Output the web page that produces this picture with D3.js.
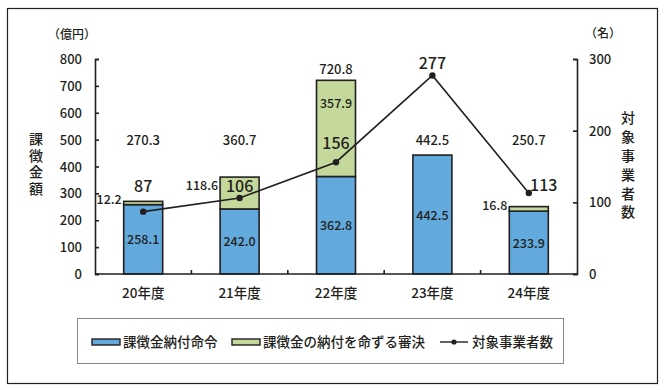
<!DOCTYPE html>
<html>
<head>
<meta charset="utf-8">
<script src="https://cdn.jsdelivr.net/npm/d3@7"></script>
<style>
  body { margin: 0; background: #fff; }
  svg { font-family: "Noto Sans CJK JP", sans-serif; font-weight: 500; }
</style>
</head>
<body>
<svg id="chart" width="667" height="390"></svg>
<script>
// data
const years = ["20年度", "21年度", "22年度", "23年度", "24年度"];
const orders = [258.1, 242.0, 362.8, 442.5, 233.9];     // 課徴金納付命令
const rulings = [12.2, 118.6, 357.9, 0, 16.8];           // 課徴金の納付を命ずる審決
const totals = [270.3, 360.7, 720.8, 442.5, 250.7];
const companies = [87, 106, 156, 277, 113];              // 対象事業者数
const leftTicks = [0, 100, 200, 300, 400, 500, 600, 700, 800];
const rightTicks = [0, 100, 200, 300];

const blue = "#62a9dd", green = "#c3d89a", ink = "#231f20";
// label nudges (px) for the company counts, so they sit like the original
const countDx = [0, 0, 0, 0, 15];
const countDy = [-20, -6, -13, -6, -2];

const svg = d3.select("#chart");

// outer frame
svg.append("rect")
  .attr("x", 7.5).attr("y", 8.5).attr("width", 650).attr("height", 375)
  .attr("fill", "none").attr("stroke", ink).attr("stroke-width", 1.2);

const x = d3.scaleBand().domain(years).range([95, 577]);
const y = d3.scaleLinear().domain([0, 800]).range([274, 59]);
const y2 = d3.scaleLinear().domain([0, 300]).range([274, 59]);
const barW = 39;
const cx = (d) => x(d) + x.bandwidth() / 2;

// bars
const g = svg.append("g").attr("stroke", ink).attr("stroke-width", 1.6);
g.selectAll("rect.order")
  .data(years)
  .enter()
  .append("rect")
  .attr("x", (d) => cx(d) - barW / 2)
  .attr("y", (d, i) => y(orders[i]))
  .attr("width", barW)
  .attr("height", (d, i) => y(0) - y(orders[i]))
  .attr("fill", blue);
g.selectAll("rect.ruling")
  .data(years.filter((d, i) => rulings[i] > 0))
  .enter()
  .append("rect")
  .attr("x", (d) => cx(d) - barW / 2)
  .attr("y", (d) => y(orders[years.indexOf(d)] + rulings[years.indexOf(d)]))
  .attr("width", barW)
  .attr("height", (d) => y(0) - y(rulings[years.indexOf(d)]))
  .attr("fill", green);

// axes
const axisL = svg.append("g").attr("transform", "translate(95,0)")
  .call(d3.axisRight(y).tickValues(leftTicks).tickSize(4).tickFormat(""));
const axisR = svg.append("g").attr("transform", "translate(577,0)")
  .call(d3.axisLeft(y2).tickValues(rightTicks).tickSize(4).tickFormat(""));
const axisB = svg.append("g").attr("transform", "translate(0,274)")
  .call(d3.axisTop(x).tickSize(0).tickFormat(""));
[axisL, axisR, axisB].forEach((a) => {
  a.selectAll("path").attr("stroke", ink).attr("stroke-width", 1.6);
  a.selectAll("line").attr("stroke", ink).attr("stroke-width", 1.6);
});
axisB.select("path").attr("d", "M95,0H577");
// category separator ticks
svg.append("g").selectAll("line")
  .data(years.slice(1))
  .enter()
  .append("line")
  .attr("x1", (d) => x(d)).attr("x2", (d) => x(d))
  .attr("y1", 274).attr("y2", 270)
  .attr("stroke", ink).attr("stroke-width", 1.6);

// tick labels
svg.append("g").selectAll("text")
  .data(leftTicks)
  .enter()
  .append("text")
  .attr("x", 82).attr("y", (d) => y(d) + 5)
  .attr("text-anchor", "end").attr("font-size", 13).attr("fill", ink)
  .text((d) => d);
svg.append("g").selectAll("text")
  .data(rightTicks)
  .enter()
  .append("text")
  .attr("x", 589).attr("y", (d) => y2(d) + 5)
  .attr("font-size", 13).attr("fill", ink)
  .text((d) => d);
svg.append("g").selectAll("text")
  .data(years)
  .enter()
  .append("text")
  .attr("x", cx).attr("y", 298)
  .attr("text-anchor", "middle").attr("font-size", 13.5).attr("fill", ink)
  .text((d) => d);

// units and axis titles (vertical)
svg.append("text").attr("x", 48).attr("y", 39).attr("font-size", 12).attr("fill", ink).text("（億円）");
svg.append("text").attr("x", 585).attr("y", 38).attr("font-size", 12).attr("fill", ink).text("（名）");
svg.append("text")
  .attr("x", 36).attr("y", 132)
  .attr("writing-mode", "tb").style("text-orientation", "upright")
  .attr("letter-spacing", 2.5)
  .attr("font-size", 14).attr("fill", ink)
  .text("課徴金額");
svg.append("text")
  .attr("x", 628).attr("y", 111)
  .attr("writing-mode", "tb").style("text-orientation", "upright")
  .attr("letter-spacing", 4.8)
  .attr("font-size", 14).attr("fill", ink)
  .text("対象事業者数");

// value labels
const lbl = svg.append("g").attr("fill", ink).attr("font-size", 12.5);
lbl.selectAll("text.order")
  .data(years)
  .enter()
  .append("text")
  .attr("x", cx)
  .attr("y", (d, i) => (y(0) + y(orders[i])) / 2 + 5)
  .attr("text-anchor", "middle")
  .text((d, i) => orders[i].toFixed(1));
lbl.selectAll("text.total")
  .data(years)
  .enter()
  .append("text")
  .attr("x", cx)
  .attr("y", (d, i) => (totals[i] > 600 ? y(totals[i]) - 6 : y(500) + 5))
  .attr("text-anchor", "middle").attr("font-size", 13)
  .text((d, i) => totals[i].toFixed(1));
lbl.selectAll("text.ruling")
  .data(years.filter((d, i) => rulings[i] > 0))
  .enter()
  .append("text")
  .attr("x", (d) => {
    const i = years.indexOf(d);
    return rulings[i] > 300 ? cx(d) : cx(d) - barW / 2 - 2;
  })
  .attr("y", (d) => {
    const i = years.indexOf(d);
    if (rulings[i] > 300) return y(orders[i] + rulings[i] / 2) - 20;
    if (rulings[i] > 100) return y(orders[i] + rulings[i]) + 13;
    return y(orders[i] + rulings[i]) + 3;
  })
  .attr("text-anchor", (d) => (rulings[years.indexOf(d)] > 300 ? "middle" : "end"))
  .text((d) => rulings[years.indexOf(d)].toFixed(1));

// company count line
const line = d3.line()
  .x((d, i) => cx(years[i]))
  .y((d) => y2(d));
svg.append("path")
  .datum(companies)
  .attr("d", line)
  .attr("fill", "none").attr("stroke", ink).attr("stroke-width", 1.6);
svg.append("g").selectAll("circle")
  .data(companies)
  .enter()
  .append("circle")
  .attr("cx", (d, i) => cx(years[i]))
  .attr("cy", (d) => y2(d))
  .attr("r", 3.2).attr("fill", ink);
svg.append("g").selectAll("text")
  .data(companies)
  .enter()
  .append("text")
  .attr("x", (d, i) => cx(years[i]) + countDx[i])
  .attr("y", (d, i) => y2(d) + countDy[i])
  .attr("text-anchor", "middle").attr("font-size", 16).attr("fill", ink)
  .text((d) => d);

// legend
const leg = svg.append("g");
leg.append("rect")
  .attr("x", 77.5).attr("y", 318.5).attr("width", 486).attr("height", 45)
  .attr("fill", "none").attr("stroke", "#888").attr("stroke-width", 1);
const legItems = [
  { label: "課徴金納付命令", color: blue, x: 92 },
  { label: "課徴金の納付を命ずる審決", color: green, x: 232 },
];
legItems.forEach((it) => {
  leg.append("rect")
    .attr("x", it.x).attr("y", 339).attr("width", 28).attr("height", 6)
    .attr("fill", it.color).attr("stroke", ink).attr("stroke-width", 1.4);
  leg.append("text")
    .attr("x", it.x + 31).attr("y", 347).attr("font-size", 13.5).attr("fill", ink)
    .text(it.label);
});
leg.append("line").attr("x1", 440).attr("x2", 468).attr("y1", 342).attr("y2", 342)
  .attr("stroke", ink).attr("stroke-width", 1.4);
leg.append("circle").attr("cx", 454).attr("cy", 342).attr("r", 2.6).attr("fill", ink);
leg.append("text")
  .attr("x", 472).attr("y", 347).attr("font-size", 13.5).attr("fill", ink)
  .text("対象事業者数");
</script>
</body>
</html>
